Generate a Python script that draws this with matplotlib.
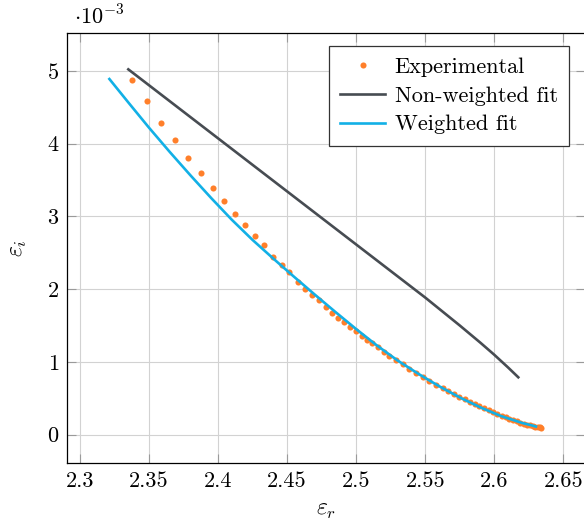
import matplotlib
matplotlib.use("Agg")
import matplotlib.pyplot as plt

plt.rcParams["font.family"] = ["cmr10", "DejaVu Serif"]
plt.rcParams["mathtext.fontset"] = "cm"
plt.rcParams["axes.formatter.use_mathtext"] = True

# Experimental data (eps_r, eps_i in units of 1e-3)
exp_r = [2.3374, 2.3485, 2.3589, 2.3690, 2.3784, 2.3876, 2.3960, 2.4043, 2.4119,
         2.4195, 2.4264, 2.4335, 2.4398, 2.4460, 2.4516, 2.4576, 2.4626, 2.4677,
         2.4733, 2.4781, 2.4825, 2.4870, 2.4914, 2.4955, 2.4999, 2.5039, 2.5075,
         2.5114, 2.5155, 2.5203, 2.5240, 2.5288, 2.5336, 2.5384, 2.5433, 2.5481,
         2.5529, 2.5578, 2.5626, 2.5665, 2.5705, 2.5745, 2.5785, 2.5822, 2.5858,
         2.5893, 2.5927, 2.5960, 2.5992, 2.6023, 2.6053, 2.6082, 2.6110, 2.6137,
         2.6163, 2.6188, 2.6212, 2.6235, 2.6257, 2.6278, 2.6298, 2.6316, 2.6330,
         2.6340]
exp_i = [4.876, 4.583, 4.289, 4.047, 3.807, 3.601, 3.391, 3.208, 3.029,
         2.878, 2.730, 2.602, 2.446, 2.327, 2.231, 2.102, 2.001, 1.919,
         1.850, 1.758, 1.675, 1.607, 1.543, 1.483, 1.424, 1.359, 1.300,
         1.254, 1.204, 1.130, 1.080, 1.025, 0.966, 0.905, 0.845, 0.795,
         0.740, 0.685, 0.635, 0.595, 0.556, 0.518, 0.482, 0.449, 0.417,
         0.387, 0.358, 0.331, 0.305, 0.281, 0.258, 0.236, 0.216, 0.197,
         0.180, 0.164, 0.150, 0.137, 0.126, 0.116, 0.108, 0.102, 0.098,
         0.095]

# Non-weighted fit
nw_r = [2.3350, 2.3500, 2.4000, 2.4500, 2.5000, 2.5500, 2.5750, 2.5900, 2.6000,
        2.6100, 2.6174]
nw_i = [5.023, 4.804, 4.074, 3.344, 2.614, 1.884, 1.500, 1.262, 1.097,
        0.922, 0.787]

# Weighted fit
w_r = [2.3213, 2.3350, 2.3500, 2.3650, 2.3800, 2.3950, 2.4100, 2.4250, 2.4400,
       2.4550, 2.4700, 2.4850, 2.5000, 2.5150, 2.5300, 2.5450, 2.5600, 2.5750,
       2.5900, 2.6050, 2.6200, 2.6302]
w_i = [4.890, 4.568, 4.220, 3.887, 3.565, 3.253, 2.953, 2.676, 2.420,
       2.170, 1.925, 1.685, 1.450, 1.225, 1.018, 0.835, 0.665, 0.510,
       0.373, 0.253, 0.160, 0.110]

x_ticks = [2.3, 2.35, 2.4, 2.45, 2.5, 2.55, 2.6, 2.65]
x_ticklabels = ["2.3", "2.35", "2.4", "2.45", "2.5", "2.55", "2.6", "2.65"]
y_ticks = [0, 1, 2, 3, 4, 5]
y_ticklabels = ["0", "1", "2", "3", "4", "5"]

ORANGE = "#ff7f2a"
DARK = "#474c52"
CYAN = "#12b0e6"

W, H = 584, 529
fig = plt.figure(figsize=(W / 100, H / 100), dpi=100)
ax = fig.add_axes([67 / W, 1 - 463 / H, 518.4 / W, 430 / H])

fs = 16

ax.plot(exp_r, exp_i, linestyle="none", marker="o", markersize=4.4,
        color=ORANGE, markeredgewidth=0, label="Experimental", zorder=3)
ax.plot(nw_r, nw_i, color=DARK, linewidth=1.9, label="Non-weighted fit", zorder=4)
ax.plot(w_r, w_i, color=CYAN, linewidth=1.9, label="Weighted fit", zorder=5)

ax.set_xlim(2.2906, 2.6660)
ax.set_ylim(-0.392, 5.523)
ax.set_xticks(x_ticks)
ax.set_xticklabels(x_ticklabels, fontsize=fs)
ax.set_yticks(y_ticks)
ax.set_yticklabels(y_ticklabels, fontsize=fs)

ax.grid(True, color="#d2d2d2", linewidth=0.8)
ax.set_axisbelow(True)
ax.tick_params(direction="in", length=6.5, width=0.8, color="#9a9a9a",
               top=True, right=True, pad=6)
for s in ax.spines.values():
    s.set_linewidth(0.9)
    s.set_color("black")

ax.set_xlabel(r"$\varepsilon_r$", fontsize=fs + 1, labelpad=6)
ax.set_ylabel(r"$\varepsilon_i$", fontsize=fs + 1, labelpad=13)

fig.text(74 / W, 1 - 16 / H, r"$\cdot 10^{-3}$", fontsize=fs,
         ha="left", va="center")

leg = ax.legend(loc="upper right", bbox_to_anchor=(569 / W, 1 - 46 / H),
                bbox_transform=fig.transFigure, fontsize=fs, frameon=True,
                fancybox=False, framealpha=1, edgecolor="#333333",
                handlelength=2.0, handletextpad=0.45, labelspacing=0.42,
                borderpad=0.5, borderaxespad=0, markerscale=1.0)
leg.get_frame().set_linewidth(0.9)

fig.savefig("out.png", dpi=100)
